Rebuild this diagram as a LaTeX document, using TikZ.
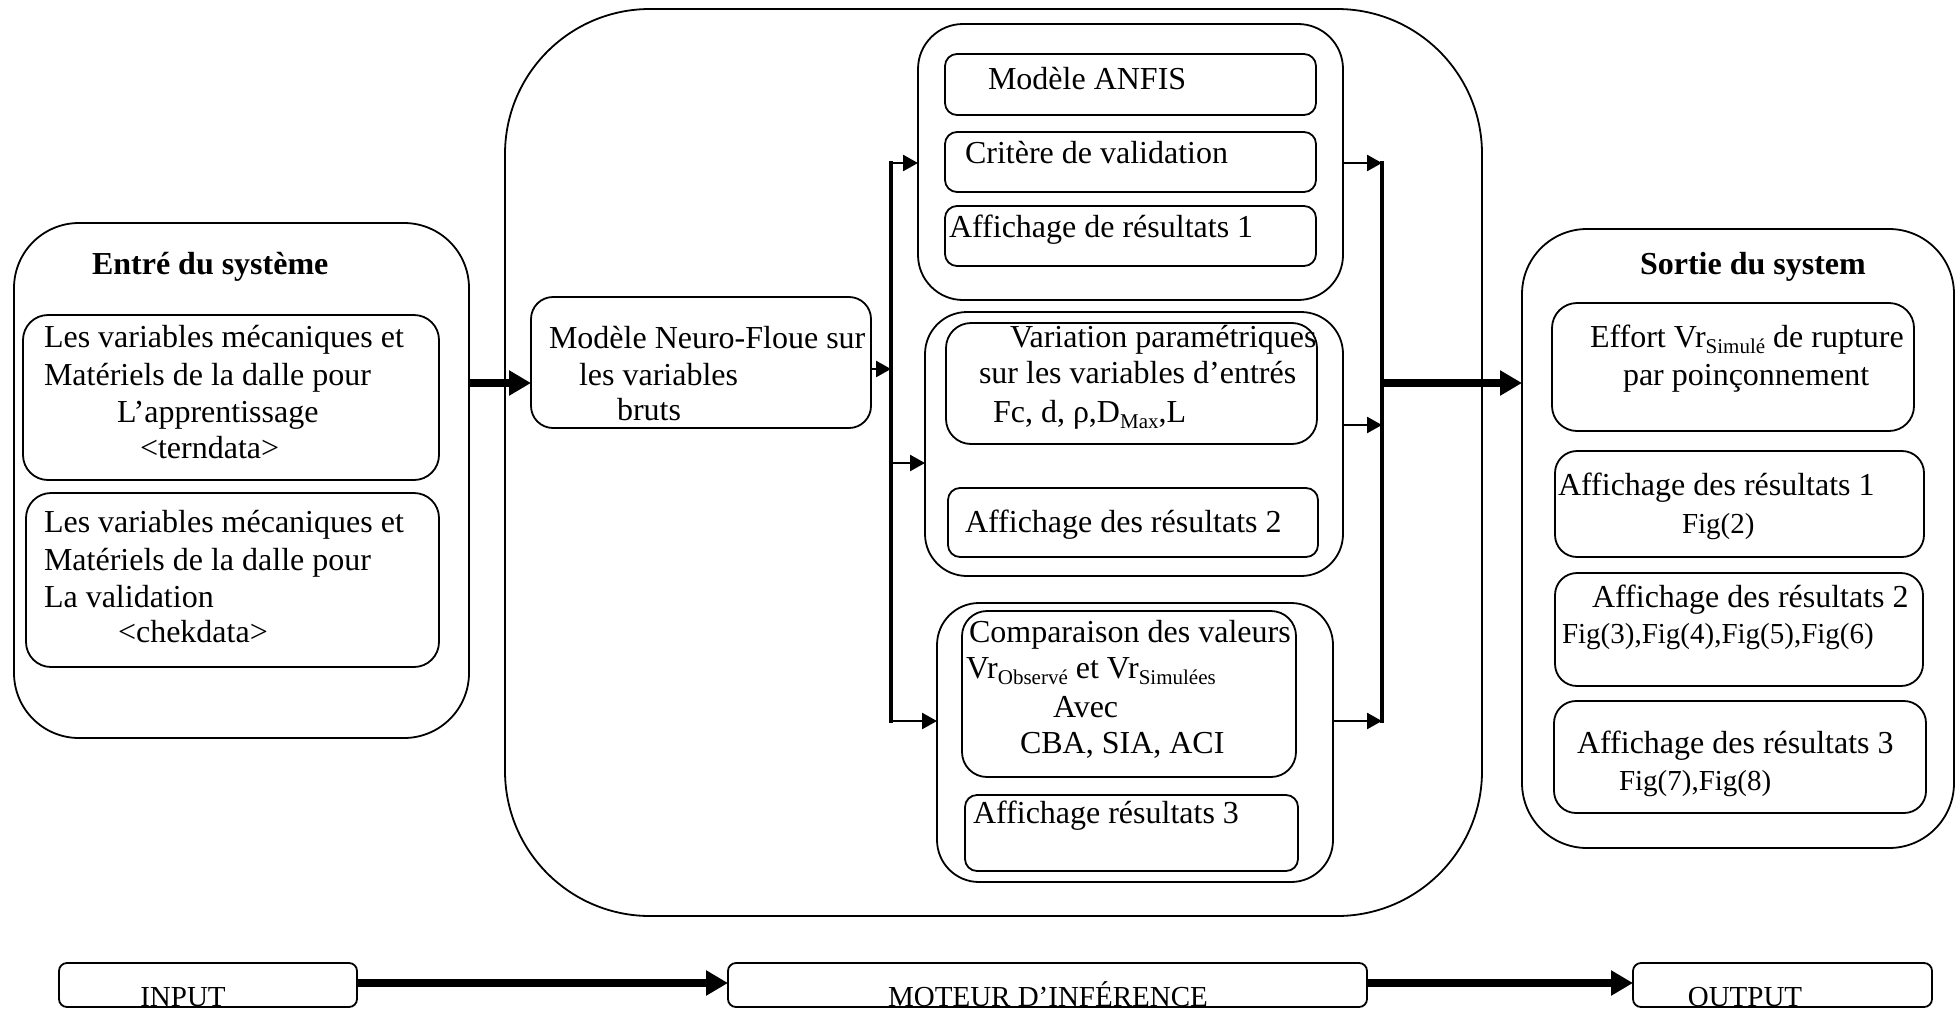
\documentclass[tikz,border=0pt]{standalone}
\usepackage{fontspec}
\setmainfont{Liberation Serif}
\usetikzlibrary{arrows.meta}
% lowered, smaller text used for the subscripts
\newcommand\lowsub[1]{\raisebox{-6pt}{\fontsize{21}{21}\selectfont #1}}
% rounded box from its corners: name, x1, y1, x2, y2, corner radius
\newcommand\bx[6]{\node[box, rounded corners=#6pt, minimum width={(#4-#2)*1pt},
  minimum height={(#5-#3)*1pt}] (#1) at ({(#2+#4)/2},{(#3+#5)/2}) {};}
\begin{document}
\begin{tikzpicture}[x=1pt,y=-1pt,
  box/.style={draw, line width=1.8pt, inner sep=0pt, outer sep=0pt},
  txt/.style={inner sep=0pt, outer sep=0pt, anchor=base west, font=\fontsize{32}{37}\selectfont},
  figtxt/.style={txt, font=\fontsize{29}{33}\selectfont},
  ttl/.style={txt, font=\fontsize{32}{37}\selectfont\bfseries},
  lab/.style={inner sep=0pt, outer sep=0pt, anchor=base, font=\fontsize{29}{33}\selectfont},
  bus/.style={line width=3.5pt},
  arr/.style={line width=2.5pt, -{Triangle[length=15pt,width=16pt]}},
  fat/.style={line width=8pt, -{Triangle[length=22pt,width=24pt]}},
]
\useasboundingbox (0,0) rectangle (1958,1009);

% ---------- input block ----------
\bx{lefto}{14}{223}{469}{738}{65}
\bx{lin1}{23}{315}{439}{480}{25}
\bx{lin2}{26}{493}{439}{667}{25}
\node[ttl] (tIn) at (92,274) {Entré du système};
\node[txt] (l1a) at (44,347) {Les variables mécaniques et};
\node[txt] (l1b) at (44,385) {Matériels de la dalle pour};
\node[txt] (l1c) at (117,422) {L’apprentissage};
\node[txt] (l1d) at (140,458) {<terndata>};
\node[txt] (l2a) at (44,532) {Les variables mécaniques et};
\node[txt] (l2b) at (44,570) {Matériels de la dalle pour};
\node[txt] (l2c) at (44,607) {La validation};
\node[txt] (l2d) at (118,642) {<chekdata>};

% ---------- inference engine ----------
\bx{mid}{505}{9}{1482}{916}{145}
\bx{neuro}{531}{297}{871}{428}{22}
\node[txt] (n1) at (549,348) {Modèle Neuro-Floue sur};
\node[txt] (n2) at (579,385) {les variables};
\node[txt] (n3) at (617,420) {bruts};

\bx{topg}{918}{24}{1343}{300}{45}
\bx{anfis}{945}{54}{1316}{115}{12}
\bx{crit}{945}{132}{1316}{192}{12}
\bx{aff1}{945}{206}{1316}{266}{12}
\node[txt] (a1) at (988,89) {Modèle ANFIS};
\node[txt] (a2) at (965,163) {Critère de validation};
\node[txt] (a3) at (949,237) {Affichage de résultats 1};

\bx{midg}{925}{312}{1343}{576}{42}
\bx{vari}{946}{323}{1317}{444}{25}
\bx{aff2}{948}{488}{1318}{557}{12}
\node[txt] (v1) at (1010,347) {Variation paramétriques};
\node[txt] (v2) at (979,383) {sur les variables d’entrés};
\node[txt] (v3) at (993,422) {Fc, d, ρ,D\lowsub{Max},L};
\node[txt] (v4) at (965,532) {Affichage des résultats 2};

\bx{botg}{937}{603}{1333}{882}{42}
\bx{comp}{962}{611}{1296}{777}{25}
\bx{aff3}{965}{795}{1298}{871}{12}
\node[txt] (c1) at (969,642) {Comparaison des valeurs};
\node[txt] (c2) at (966,678) {Vr\lowsub{Observé} et Vr\lowsub{Simulées}};
\node[txt] (c3) at (1053,717) {Avec};
\node[txt] (c4) at (1020,753) {CBA, SIA, ACI};
\node[txt] (c5) at (973,823) {Affichage résultats 3};

% distribution and collection buses
\coordinate (lbA) at (891,163);
\coordinate (lbN) at (891,369);
\coordinate (lbM) at (891,463);
\coordinate (lbB) at (891,721);
\coordinate (rbA) at (1382,163);
\coordinate (rbM) at (1382,425);
\coordinate (rbB) at (1382,721);
\draw[bus] ([yshift=1.75pt]lbA) -- ([yshift=-1.75pt]lbB);
\draw[bus] ([yshift=1.75pt]rbA) -- ([yshift=-1.75pt]rbB);
\draw[arr] (lbN -| neuro.east) -- (lbN);
\draw[arr] (lbA) -- (lbA -| topg.west);
\draw[arr] (lbM) -- (lbM -| midg.west);
\draw[arr] (lbB) -- (lbB -| botg.west);
\draw[arr] (rbA -| topg.east) -- (rbA);
\draw[arr] (rbM -| midg.east) -- (rbM);
\draw[arr] (rbB -| botg.east) -- (rbB);

% ---------- output block ----------
\bx{righto}{1522}{229}{1954}{848}{65}
\bx{eff}{1552}{303}{1914}{431}{25}
\bx{raff1}{1555}{451}{1924}{557}{22}
\bx{raff2}{1555}{573}{1923}{686}{22}
\bx{raff3}{1554}{701}{1926}{813}{22}
\node[ttl] (tOut) at (1640,274) {Sortie du system};
\node[txt] (e1) at (1590,347) {Effort Vr\lowsub{Simulé} de rupture};
\node[txt] (e2) at (1623,385) {par poinçonnement};
\node[txt] (r1a) at (1558,495) {Affichage des résultats 1};
\node[figtxt] (r1b) at (1682,533) {Fig(2)};
\node[txt] (r2a) at (1592,607) {Affichage des résultats 2};
\node[figtxt] (r2b) at (1562,643) {Fig(3),Fig(4),Fig(5),Fig(6)};
\node[txt] (r3a) at (1577,753) {Affichage des résultats 3};
\node[figtxt] (r3b) at (1619,790) {Fig(7),Fig(8)};

% main flow arrows
\coordinate (flow) at (0,383);
\draw[fat] (flow -| lefto.east) -- (flow -| neuro.west);
\draw[fat] (flow -| rbA) -- (flow -| righto.west);

% ---------- summary row ----------
\bx{inp}{59}{963}{357}{1007}{8}
\bx{mot}{728}{963}{1367}{1007}{8}
\bx{outp}{1633}{963}{1932}{1007}{8}
\node[lab] (sInp) at (183,1006) {INPUT};
\node[lab] (sMot) at (1048,1006) {MOTEUR D’INFÉRENCE};
\node[lab] (sOut) at (1745,1006) {OUTPUT};
\coordinate (sumrow) at (0,983);
\draw[fat] (sumrow -| inp.east) -- (sumrow -| mot.west);
\draw[fat] (sumrow -| mot.east) -- (sumrow -| outp.west);
\end{tikzpicture}
\end{document}
